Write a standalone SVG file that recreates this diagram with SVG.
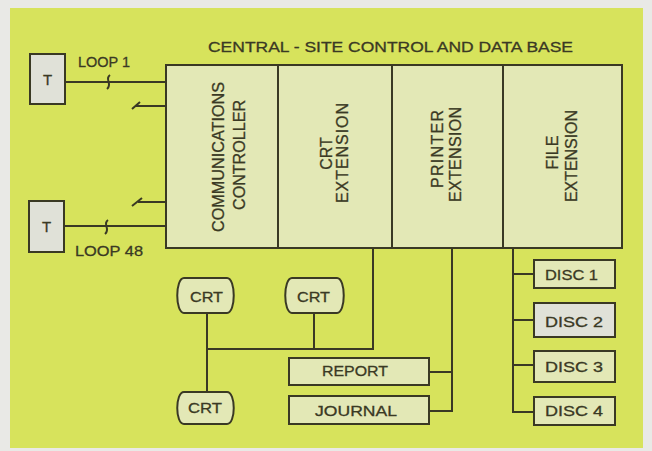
<svg xmlns="http://www.w3.org/2000/svg" width="652" height="451" viewBox="0 0 652 451">
<style>
.box{fill:#e3e8b6;stroke:#3a3924;stroke-width:2}
.gray{fill:#e0e1d8;stroke:#3a3924;stroke-width:2}
.ln{fill:none;stroke:#3a3924;stroke-width:2}
.t{font-family:"Liberation Sans",Arial,sans-serif;fill:#3a3924;stroke:#3a3924;stroke-width:0.3;font-size:15px}
.c{text-anchor:middle}
.v{font-size:16px}
</style>
<rect x="0" y="0" width="652" height="451" fill="#e9e9e6"/>
<rect x="10" y="8" width="633" height="440" fill="#d7e35c"/>
<text class="t" x="208" y="52" font-size="14.5" textLength="365" lengthAdjust="spacingAndGlyphs">CENTRAL - SITE CONTROL AND DATA BASE</text>

<g id="connectors">
  <path class="ln" d="M65,82 H166"/>
  <path class="ln" d="M64,226 H166"/>
  <path class="ln" d="M135,106 H166 M132,109 L140,102"/>
  <path class="ln" d="M138,202 H166 M132,206 L142,198"/>
  <path class="ln" d="M110,75 C104,79 113,84 107,89" stroke-width="1.6"/>
  <path class="ln" d="M108,220 C102,224 111,229 105,234" stroke-width="1.6"/>
  <path class="ln" d="M373,248 V349 H207"/>
  <path class="ln" d="M207,313 V392"/>
  <path class="ln" d="M314,313 V349"/>
  <path class="ln" d="M452,248 V411 H429 M429,372 H452"/>
  <path class="ln" d="M513,248 V412 H534 M513,274 H534 M513,320 H534 M513,365 H534"/>
</g>

<g id="t1">
  <rect class="gray" x="30" y="54" width="35" height="50"/>
  <text class="t c" x="47.5" y="85" font-size="14">T</text>
</g>
<text class="t" x="78" y="67" font-size="14" textLength="52" lengthAdjust="spacingAndGlyphs">LOOP 1</text>
<g id="t48">
  <rect class="gray" x="29" y="201" width="35" height="51"/>
  <text class="t c" x="46.5" y="232" font-size="14">T</text>
</g>
<text class="t" x="75" y="256" font-size="14" textLength="68" lengthAdjust="spacingAndGlyphs">LOOP 48</text>

<g id="central">
  <rect class="box" x="166" y="65" width="456" height="183"/>
  <path class="ln" d="M278,65 V248 M392,65 V248 M503,65 V248"/>
</g>
<g id="comm">
  <text class="t c v" transform="translate(224,157) rotate(-90)" textLength="150" lengthAdjust="spacingAndGlyphs">COMMUNICATIONS</text>
  <text class="t c v" transform="translate(245,155) rotate(-90)" textLength="110" lengthAdjust="spacingAndGlyphs">CONTROLLER</text>
</g>
<g id="crtext">
  <text class="t c v" transform="translate(332,153.5) rotate(-90)">CRT</text>
  <text class="t c v" transform="translate(348,153) rotate(-90)" textLength="100" lengthAdjust="spacing">EXTENSION</text>
</g>
<g id="printext">
  <text class="t c v" transform="translate(443,149) rotate(-90)" textLength="78" lengthAdjust="spacing">PRINTER</text>
  <text class="t c v" transform="translate(461,154.5) rotate(-90)" textLength="95" lengthAdjust="spacing">EXTENSION</text>
</g>
<g id="fileext">
  <text class="t c v" transform="translate(558,152.5) rotate(-90)">FILE</text>
  <text class="t c v" transform="translate(577,156) rotate(-90)" textLength="92" lengthAdjust="spacing">EXTENSION</text>
</g>

<g id="crt1">
  <path class="box" d="M184,278 H227 C236,278 236,313 227,313 H184 C175,313 175,278 184,278 Z"/>
  <text class="t" x="190" y="302" textLength="33" lengthAdjust="spacingAndGlyphs">CRT</text>
</g>
<g id="crt2">
  <path class="box" d="M292,278 H337 C346,278 346,313 337,313 H292 C283,313 283,278 292,278 Z"/>
  <text class="t" x="297" y="302" textLength="33" lengthAdjust="spacingAndGlyphs">CRT</text>
</g>
<g id="crt3">
  <path class="box" d="M184,392 H227 C236,392 236,424 227,424 H184 C175,424 175,392 184,392 Z"/>
  <text class="t" x="188" y="413" textLength="34" lengthAdjust="spacingAndGlyphs">CRT</text>
</g>

<g id="report">
  <rect class="box" x="289" y="358" width="140" height="27"/>
  <text class="t" x="322" y="376" textLength="66" lengthAdjust="spacingAndGlyphs">REPORT</text>
</g>
<g id="journal">
  <rect class="box" x="289" y="396" width="140" height="28"/>
  <text class="t" x="315" y="416" textLength="82" lengthAdjust="spacingAndGlyphs">JOURNAL</text>
</g>

<g id="disc1">
  <rect class="box" x="534" y="260" width="81" height="28"/>
  <text class="t" x="545" y="280" textLength="53" lengthAdjust="spacingAndGlyphs">DISC 1</text>
</g>
<g id="disc2">
  <rect class="gray" x="534" y="303" width="81" height="34"/>
  <text class="t" x="545" y="327" textLength="58" lengthAdjust="spacingAndGlyphs">DISC 2</text>
</g>
<g id="disc3">
  <rect class="box" x="534" y="351" width="81" height="31"/>
  <text class="t" x="545" y="372" textLength="58" lengthAdjust="spacingAndGlyphs">DISC 3</text>
</g>
<g id="disc4">
  <rect class="box" x="534" y="397" width="81" height="28"/>
  <text class="t" x="545" y="416" textLength="58" lengthAdjust="spacingAndGlyphs">DISC 4</text>
</g>
</svg>
